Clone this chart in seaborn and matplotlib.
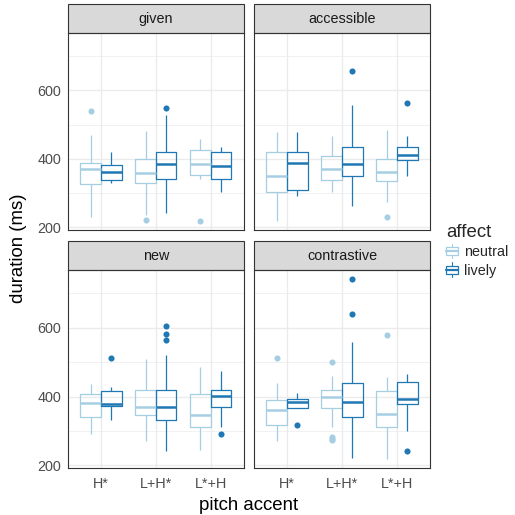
import numpy as np
import pandas as pd
import matplotlib
matplotlib.use("Agg")
import matplotlib.pyplot as plt
from matplotlib.patches import Rectangle, Patch
from matplotlib.lines import Line2D
from matplotlib.legend_handler import HandlerBase
import seaborn as sns

facets = ["given", "accessible", "new", "contrastive"]
accents = ["H*", "L+H*", "L*+H"]
affects = ["neutral", "lively"]
colors = {"neutral": "#A6CEE3", "lively": "#1F78B4"}

# box stats, order: facet -> accent -> affect
whisk_lo = [231, 330, 236, 241, 340, 304,
            219, 292, 302, 261, 275, 350,
            291, 332, 272, 241, 245, 312,
            271, 367, 313, 222, 219, 301]
q1 = [325, 338, 330, 340, 353, 340,
      302, 308, 338, 349, 335, 396,
      340, 373, 347, 332, 311, 371,
      319, 367, 368, 341, 312, 380]
med = [370, 362, 360, 384, 385, 380,
       351, 387, 370, 385, 362, 412,
       382, 379, 371, 371, 347, 401,
       360, 385, 399, 385, 350, 394]
q3 = [389, 383, 400, 420, 427, 420,
      421, 420, 408, 436, 400, 435,
      408, 417, 420, 420, 408, 420,
      389, 394, 418, 439, 416, 442]
whisk_hi = [469, 420, 480, 529, 459, 434,
            478, 478, 467, 558, 485, 468,
            437, 427, 510, 521, 487, 475,
            439, 410, 459, 560, 456, 467]
outliers = [[539], [], [221], [549], [218], [],
            [], [], [], [656], [231], [563],
            [], [511], [], [566, 582, 604], [], [291],
            [511], [319], [500, 284, 278, 274], [640, 741], [578], [241]]

# expand each box into observations that give the same box stats
rows = []
i = 0
for f in facets:
    for a in accents:
        for af in affects:
            lows = [v for v in outliers[i] if v < q1[i]]
            highs = [v for v in outliers[i] if v > q3[i]]
            vals = (lows + [whisk_lo[i]] + [q1[i]] * 10 + [med[i]] * 5
                    + [q3[i]] * 10 + [whisk_hi[i]] + highs)
            for v in vals:
                rows.append((f, a, af, v))
            i += 1
df = pd.DataFrame(rows, columns=["information", "accent", "affect", "duration"])

sns.set_style("white")
plt.rcParams["font.family"] = ["Liberation Sans", "DejaVu Sans"]

W = 515.0
fig = plt.figure(figsize=(5.15, 5.15), dpi=100)

# panel boxes in pixels: left, top, right, bottom
panels = {"given": (68, 33.3, 243.7, 230),
          "accessible": (254, 33.3, 430, 230),
          "new": (68, 270.3, 243.7, 468.3),
          "contrastive": (254, 270.3, 430, 468.3)}

lo, hi = df["duration"].min(), df["duration"].max()
pad = (hi - lo) * 0.05

for f in facets:
    l, t, r, b = panels[f]
    ax = fig.add_axes([l / W, 1 - b / W, (r - l) / W, (b - t) / W])
    sns.boxplot(data=df[df["information"] == f], x="accent", y="duration",
                hue="affect", order=accents, hue_order=affects,
                palette=colors, fill=False, width=0.75, gap=0,
                linewidth=0.9, showcaps=False,
                flierprops=dict(marker="o", markersize=4.4, markeredgewidth=0),
                medianprops=dict(linewidth=1.8),
                legend=False, ax=ax)
    for ln in ax.lines:
        if ln.get_marker() == "o":
            ln.set_markerfacecolor(ln.get_markeredgecolor())

    ax.set_xlim(-0.6, 2.6)
    ax.set_ylim(lo - pad, hi + pad)
    ax.set_yticks([200, 400, 600])
    ax.set_yticks([300, 500, 700], minor=True)
    ax.grid(True, which="major", color="#EBEBEB", linewidth=1.0)
    ax.grid(True, which="minor", axis="y", color="#EBEBEB", linewidth=0.5)
    ax.set_axisbelow(True)
    for s in ax.spines.values():
        s.set_color("#333333")
        s.set_linewidth(0.8)
    ax.tick_params(which="major", length=2.9, width=0.7, color="#333333",
                   labelcolor="#4D4D4D", labelsize=10.4, pad=2.2)
    ax.tick_params(which="minor", length=0)
    ax.set_xlabel("")
    ax.set_ylabel("")
    if f in ("accessible", "contrastive"):
        ax.tick_params(axis="y", which="both", left=False, labelleft=False)
    if f in ("given", "accessible"):
        ax.tick_params(axis="x", bottom=False, labelbottom=False)
    else:
        ax.tick_params(axis="x", pad=3.5)

    h = 29.0 / (b - t)
    ax.add_patch(Rectangle((0, 1), 1, h, transform=ax.transAxes,
                           facecolor="#D9D9D9", edgecolor="#333333",
                           linewidth=0.8, clip_on=False))
    ax.text(0.5, 1 + h / 2, f, transform=ax.transAxes, ha="center",
            va="center", fontsize=10.4, color="#1A1A1A")

fig.text(249 / W, 1 - 505 / W, "pitch accent", ha="center", va="center",
         fontsize=13.4, color="black")
fig.text(19 / W, 1 - 248 / W, "duration (ms)", ha="center", va="center",
         rotation=90, fontsize=13.4, color="black")


class BoxKey(HandlerBase):
    def create_artists(self, legend, orig_handle, xdescent, ydescent,
                       width, height, fontsize, trans):
        c = orig_handle.get_edgecolor()
        x0, y0 = -xdescent, -ydescent
        stem = Line2D([x0 + width / 2] * 2, [y0 - 0.15 * height, y0 + 1.15 * height],
                      color=c, lw=0.8, transform=trans)
        box = Rectangle((x0, y0 + 0.15 * height), width, 0.7 * height,
                        facecolor="white", edgecolor=c, lw=0.9, transform=trans)
        mid = Line2D([x0, x0 + width], [y0 + 0.5 * height] * 2,
                     color=c, lw=1.6, transform=trans)
        return [stem, box, mid]


handles = [Patch(facecolor="white", edgecolor=colors[a]) for a in affects]
leg = fig.legend(handles, affects, handler_map={Patch: BoxKey()},
                 title="affect", loc="upper left",
                 bbox_to_anchor=(446 / W, 1 - 224 / W), frameon=False,
                 borderpad=0, borderaxespad=0, handlelength=0.85,
                 handleheight=0.8, handletextpad=0.4, labelspacing=0.3,
                 fontsize=10.4, title_fontsize=13.4, alignment="left")

fig.savefig("out.png", dpi=100)
